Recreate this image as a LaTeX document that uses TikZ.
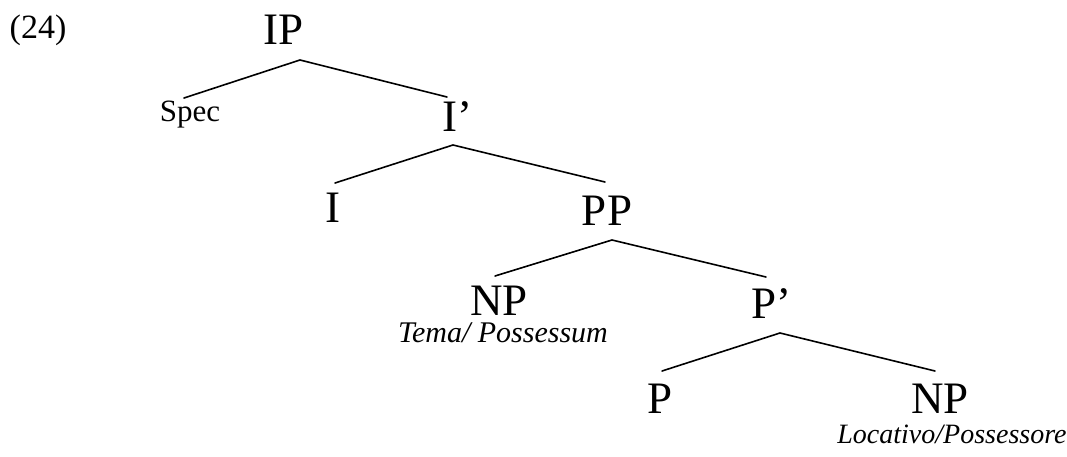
\documentclass[tikz,border=0pt]{standalone}
\usepackage{fontspec}
\setmainfont{Liberation Serif}
\begin{document}
\begin{tikzpicture}[x=1pt,y=-1pt,
  cat/.style={inner sep=0pt,anchor=base,font=\fontsize{45}{54}\selectfont},
  small/.style={inner sep=0pt,anchor=base,font=\fontsize{31}{36}\selectfont},
  role/.style={inner sep=0pt,anchor=base,font=\fontsize{28}{32}\selectfont\itshape},
  branch/.style={line width=1.6pt,line cap=round,line join=round}]
\useasboundingbox (0,0) rectangle (1067,457);
\node[small,font=\fontsize{34}{40}\selectfont] (num) at (38,39) {(24)};
\node[cat] (IP) at (284,45) {IP};
\node[small] (Spec) at (190,122) {Spec};
\node[cat] (Ibar) at (457,132) {I’};
\node[cat] (I) at (333,222) {I};
\node[cat] (PP) at (607,225) {PP};
\node[cat] (NP1) at (499,315) {NP};
\node[role,font=\fontsize{30}{34}\selectfont\itshape] (tema) at (503,342) {Tema/ Possessum};
\node[cat] (Pbar) at (771,318) {P’};
\node[cat] (P) at (660,413) {P};
\node[cat] (NP2) at (940,413) {NP};
\node[role] (loc) at (952,443) {Locativo/Possessore};
% branch points and ends
\coordinate (IPa) at (300,60);
\coordinate (Spect) at (184,98);
\coordinate (Ibart) at (447,97);
\coordinate (Ibara) at (453,145);
\coordinate (It) at (335,183);
\coordinate (PPt) at (605,182);
\coordinate (PPa) at (612,240);
\coordinate (NP1t) at (495,276);
\coordinate (Pbart) at (766,277);
\coordinate (Pbara) at (780,333);
\coordinate (Pt) at (662,371);
\coordinate (NP2t) at (935,371);
\draw[branch] (Spect) -- (IPa) -- (Ibart);
\draw[branch] (It) -- (Ibara) -- (PPt);
\draw[branch] (NP1t) -- (PPa) -- (Pbart);
\draw[branch] (Pt) -- (Pbara) -- (NP2t);
\end{tikzpicture}
\end{document}
